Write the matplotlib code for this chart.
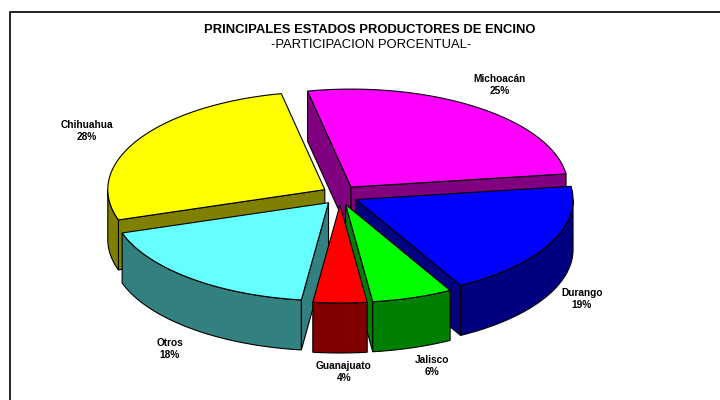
#!/usr/bin/env python3
import matplotlib
matplotlib.use("Agg")
import matplotlib.pyplot as plt
from matplotlib.patches import Polygon
import numpy as np

plt.rcParams["font.family"] = ["Liberation Sans", "DejaVu Sans"]

states = ["Michoacán", "Durango", "Jalisco", "Guanajuato", "Otros", "Chihuahua"]
shares = [25, 19, 6, 4, 18, 28]
top_colors = ["#FF00FF", "#0000FF", "#00FF00", "#FF0000", "#66FFFF", "#FFFF00"]
side_colors = ["#800080", "#000080", "#008000", "#800000", "#338080", "#808000"]
label_pos = [(500, 85), (582, 299), (432, 366), (344, 372), (170, 349), (87, 131)]

START = -7.2
RX, RY, DEPTH = 217.0, 98.0, 50.0
CENTER = (340.0, 195.0)
EXPLODE_X, EXPLODE_Y = 18.0, 10.0
BACK_SKEW = 4.4


def warp(a):
    # the perspective of the source pulls the back seam to the left
    return a - BACK_SKEW * np.maximum(np.cos(np.radians(a)), 0)


def rim(a0, a1, cx, cy):
    t = np.radians(warp(np.linspace(a0, a1, 80)))
    return cx + RX * np.sin(t), cy - RY * np.cos(t)


def main():
    fig = plt.figure(figsize=(7.2, 4.0), dpi=100)
    ax = fig.add_axes([0, 0, 1, 1])
    ax.set_xlim(0, 720)
    ax.set_ylim(400, 0)
    ax.axis("off")

    # frame runs off the right and bottom of the picture
    ax.plot([9.5, 9.5, 720], [400, 12, 12], color="black", lw=1.2, solid_joinstyle="miter")

    edges = START + np.concatenate([[0], np.cumsum(shares)]) * 3.6
    wedges = []
    for i in range(len(shares)):
        mid = np.radians((edges[i] + edges[i + 1]) / 2)
        cx = CENTER[0] + EXPLODE_X * np.sin(mid)
        cy = CENTER[1] - EXPLODE_Y * np.cos(mid)
        wedges.append((i, edges[i], edges[i + 1], cx, cy))

    # back slices first, front slices last
    order = sorted(wedges, key=lambda w: -np.cos(np.radians((w[1] + w[2]) / 2)))
    for i, a0, a1, cx, cy in order:
        x, y = rim(a0, a1, cx, cy)
        face_kw = dict(fc=side_colors[i], ec="black", lw=0.8)
        # cut faces, only those turned towards the viewer
        for a, show in ((a0, np.sin(np.radians(a0)) < 0), (a1, np.sin(np.radians(a1)) > 0)):
            if show:
                ex, ey = rim(a, a, cx, cy)
                ax.add_patch(Polygon([(cx, cy), (ex[0], ey[0]), (ex[0], ey[0] + DEPTH), (cx, cy + DEPTH)], **face_kw))
        # outer wall
        lo, hi = max(a0, 90), min(a1, 270)
        if lo < hi:
            wx, wy = rim(lo, hi, cx, cy)
            pts = np.r_[np.c_[wx, wy], np.c_[wx, wy + DEPTH][::-1]]
            ax.add_patch(Polygon(pts, **face_kw))
        top = np.r_[[[cx, cy]], np.c_[x, y]]
        ax.add_patch(Polygon(top, fc=top_colors[i], ec="black", lw=0.8))

    for name, share, (lx, ly) in zip(states, shares, label_pos):
        ax.text(lx, ly, f"{name}\n{share}%", ha="center", va="center", fontsize=7.3,
                fontweight="bold", linespacing=1.25)

    ax.text(370, 30, "PRINCIPALES ESTADOS PRODUCTORES DE ENCINO", ha="center", va="center",
            fontsize=9.4, fontweight="bold")
    ax.text(371, 45, "-PARTICIPACION PORCENTUAL-", ha="center", va="center", fontsize=9.4)

    fig.savefig("out.png", dpi=100)
    plt.close(fig)


if __name__ == "__main__":
    main()
